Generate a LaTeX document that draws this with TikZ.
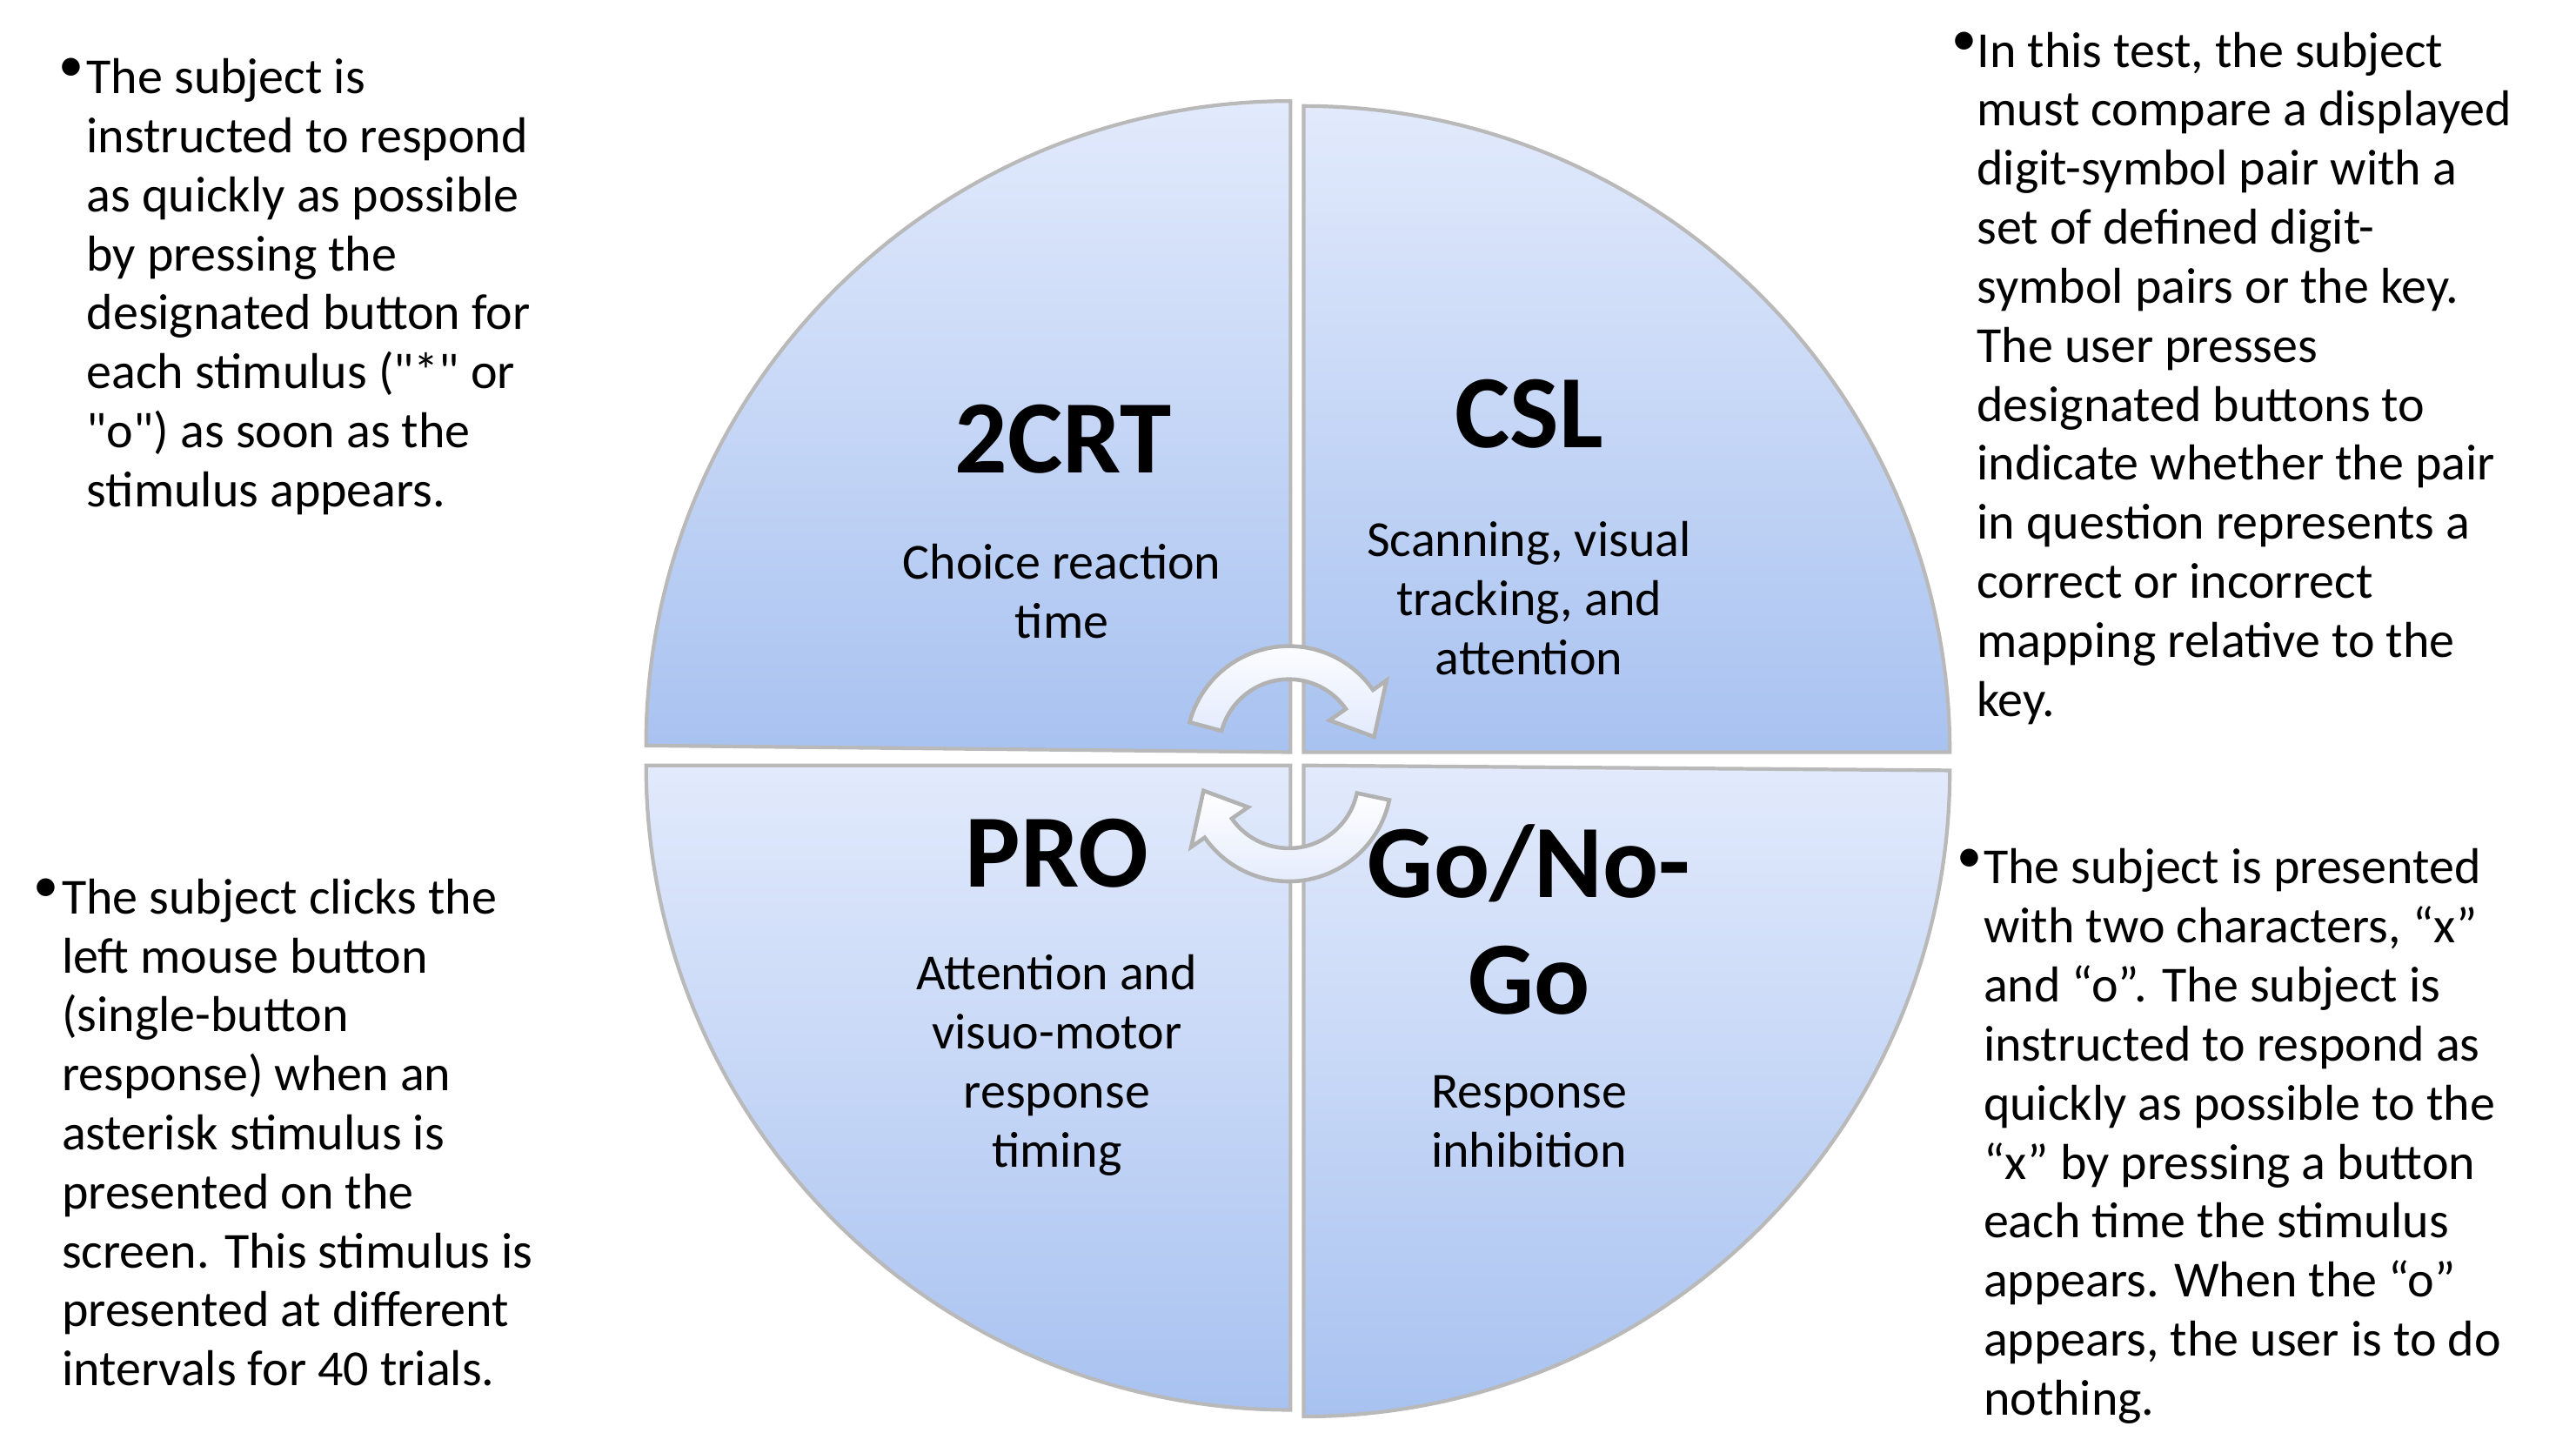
\documentclass[tikz,border=0pt]{standalone}
\usepackage{fontspec}
\setmainfont{Carlito}
\definecolor{qtop}{RGB}{226,234,252}
\definecolor{qbot}{RGB}{168,194,240}
\begin{document}
\begin{tikzpicture}[x=0.01904cm,y=-0.01904cm,
  quad/.style={draw=gray!55,line width=1.2pt,top color=qtop,bottom color=qbot},
  ttl/.style={font=\fontsize{34}{38}\selectfont\bfseries,align=center},
  sub/.style={font=\fontsize{16.5}{19.3}\selectfont,align=center},
  body/.style={font=\fontsize{16.5}{19.3}\selectfont,align=left,anchor=north west,inner sep=0pt},
  bul/.style={font=\fontsize{16.5}{19.3}\selectfont,anchor=north west,inner sep=0pt},
  carrow/.style={draw=gray!60,line width=1.3pt,top color=white,bottom color=qtop}]
\useasboundingbox (0,0) rectangle (1555,877);
% quadrants
\path[quad] (779,454) -- (779,61) arc[start angle=-90,end angle=-180,radius=389] -- cycle;
\path[quad] (787,454) -- (1177,454) arc[start angle=0,end angle=-90,radius=390] -- cycle;
\path[quad] (779,462) -- (390,462) arc[start angle=180,end angle=90,radius=389] -- cycle;
\path[quad] (787,462) -- (787,855) arc[start angle=90,end angle=0,radius=390] -- cycle;
% titles
\node[ttl] (t1) at (642,265) {2CRT};
\node[sub] (s1) at (641,357) {Choice reaction\\time};
\node[ttl] (t2) at (923,250) {CSL};
\node[sub] (s2) at (923,361) {Scanning, visual\\tracking, and\\attention};
\node[ttl] (t3) at (638,515) {PRO};
\node[sub] (s3) at (638,643) {Attention and\\visuo-motor\\response\\timing};
\node[ttl] (t4) at (923,555) {Go/No-\\Go};
\node[sub] (s4) at (923,677) {Response\\inhibition};
% arrows
\begin{scope}[shift={(778,452)}]
\path[carrow] (-165:62) arc[start angle=-165,end angle=-35,radius=62] -- (-35:72) -- (-8:52) -- (-35:30) -- (-35:42) arc[start angle=-35,end angle=-165,radius=42] -- cycle;
\end{scope}
\begin{scope}[shift={(778,470)}]
\path[carrow] (12:62) arc[start angle=12,end angle=145,radius=62] -- (145:72) -- (172:52) -- (145:30) -- (145:42) arc[start angle=145,end angle=12,radius=42] -- cycle;
\end{scope}
% side texts
\node[bul] (b1) at (35,35) {\textbullet};
\node[body] (x1) at (52,35) {The subject is\\instructed to respond\\as quickly as possible\\by pressing the\\designated button for\\each stimulus (\textquotedbl*\textquotedbl{} or\\\textquotedbl o\textquotedbl) as soon as the\\stimulus appears.};
\node[bul] (b2) at (20,530) {\textbullet};
\node[body] (x2) at (37,530) {The subject clicks the\\left mouse button\\(single-button\\response) when an\\asterisk stimulus is\\presented on the\\screen. This stimulus is\\presented at different\\intervals for 40 trials.};
\node[bul] (b3) at (1178,19) {\textbullet};
\node[body] (x3) at (1193,19) {In this test, the subject\\must compare a displayed\\digit-symbol pair with a\\set of defined digit-\\symbol pairs or the key.\\The user presses\\designated buttons to\\indicate whether the pair\\in question represents a\\correct or incorrect\\mapping relative to the\\key.};
\node[bul] (b4) at (1181,512) {\textbullet};
\node[body] (x4) at (1197,512) {The subject is presented\\with two characters, “x”\\and “o”. The subject is\\instructed to respond as\\quickly as possible to the\\“x” by pressing a button\\each time the stimulus\\appears. When the “o”\\appears, the user is to do\\nothing.};
\end{tikzpicture}
\end{document}
